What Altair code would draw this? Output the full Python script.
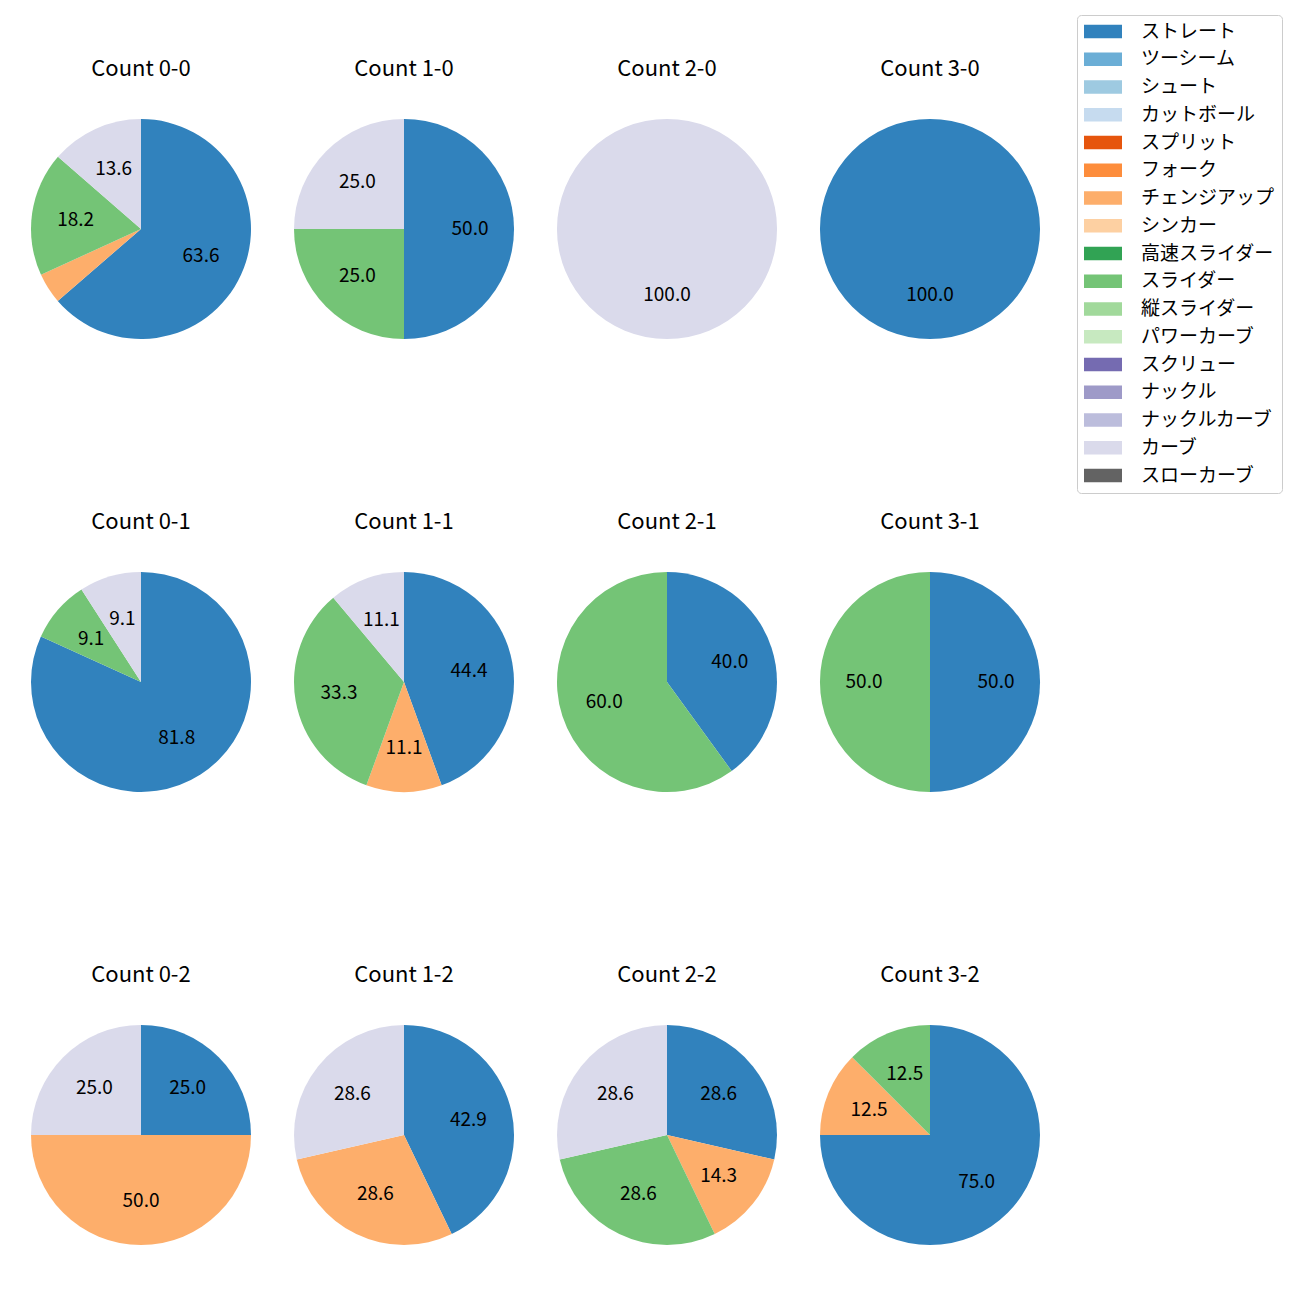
import altair as alt
import pandas as pd

PITCHES = ["ストレート", "ツーシーム", "シュート", "カットボール", "スプリット", "フォーク",
           "チェンジアップ", "シンカー", "高速スライダー", "スライダー", "縦スライダー",
           "パワーカーブ", "スクリュー", "ナックル", "ナックルカーブ", "カーブ", "スローカーブ"]
COLORS = ["#3182bd", "#6baed6", "#9ecae1", "#c6dbef", "#e6550d", "#fd8d3c",
          "#fdae6b", "#fdd0a2", "#31a354", "#74c476", "#a1d99b", "#c7e9c0",
          "#756bb1", "#9e9ac8", "#bcbddc", "#dadaeb", "#636363"]

# percentages per count (balls-strikes), pitch types in legend order
count_00 = {"ストレート": 63.6, "チェンジアップ": 4.5, "スライダー": 18.2, "カーブ": 13.6}
count_10 = {"ストレート": 50.0, "スライダー": 25.0, "カーブ": 25.0}
count_20 = {"カーブ": 100.0}
count_30 = {"ストレート": 100.0}
count_01 = {"ストレート": 81.8, "スライダー": 9.1, "カーブ": 9.1}
count_11 = {"ストレート": 44.4, "チェンジアップ": 11.1, "スライダー": 33.3, "カーブ": 11.1}
count_21 = {"ストレート": 40.0, "スライダー": 60.0}
count_31 = {"ストレート": 50.0, "スライダー": 50.0}
count_02 = {"ストレート": 25.0, "チェンジアップ": 50.0, "カーブ": 25.0}
count_12 = {"ストレート": 42.9, "チェンジアップ": 28.6, "カーブ": 28.6}
count_22 = {"ストレート": 28.6, "チェンジアップ": 14.3, "スライダー": 28.6, "カーブ": 28.6}
count_32 = {"ストレート": 75.0, "チェンジアップ": 12.5, "スライダー": 12.5}

GRID = [
    [("0-0", count_00), ("1-0", count_10), ("2-0", count_20), ("3-0", count_30)],
    [("0-1", count_01), ("1-1", count_11), ("2-1", count_21), ("3-1", count_31)],
    [("0-2", count_02), ("1-2", count_12), ("2-2", count_22), ("3-2", count_32)],
]

FONT = "Noto Sans CJK JP"
R = 110

color_scale = alt.Scale(domain=PITCHES, range=COLORS)
legend = alt.Legend(
    title=None, orient="none", legendX=1046, legendY=-104,
    symbolType="M-1,-0.7L3,-0.7L3,0.7L-1,0.7Z", symbolSize=361,
    symbolStrokeWidth=0, labelOffset=38, labelFontSize=19, labelFont=FONT,
    labelLimit=300, rowPadding=7.75, padding=7, strokeColor="#cccccc",
    cornerRadius=4, fillColor="white",
)


def panel(name, d):
    rows = []
    for i, p in enumerate(PITCHES):
        if p in d:
            v = d[p]
            rows.append({"pitch": p, "value": v, "idx": i,
                         "label": f"{v:.1f}" if v >= 5 else ""})
    df = pd.DataFrame(rows)
    base = alt.Chart(df).encode(
        theta=alt.Theta("value:Q", stack=True),
        order=alt.Order("idx:Q"),
    )
    arc = base.mark_arc(outerRadius=R).encode(
        color=alt.Color("pitch:N", scale=color_scale, legend=legend)
    )
    text = base.mark_text(radius=R * 0.6, fontSize=19, font=FONT, color="black").encode(
        text="label:N"
    )
    return (arc + text).properties(
        width=2 * R, height=2 * R,
        title=alt.TitleParams(f"Count {name}", fontSize=22, font=FONT,
                              fontWeight="normal", offset=38),
    )


rows = [alt.hconcat(*[panel(n, d) for n, d in r], spacing=43) for r in GRID]
chart = alt.vconcat(*rows, spacing=172).configure_view(stroke=None).properties(
    padding={"left": 23, "top": 6, "right": 5, "bottom": 5}
)

chart.save("out.html", embed_options={"renderer": "svg", "actions": False})
